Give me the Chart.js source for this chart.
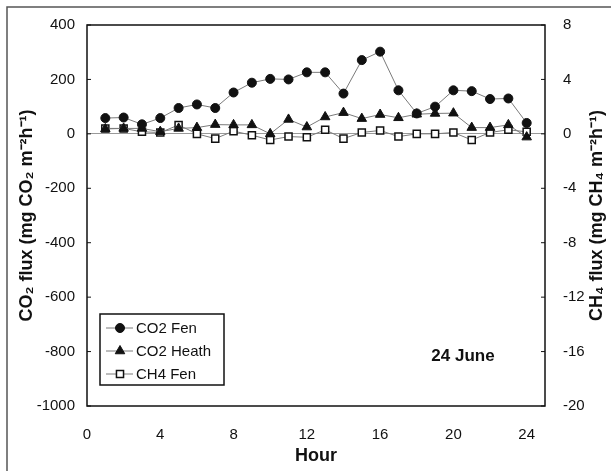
<!DOCTYPE html>
<html>
<head>
<meta charset="utf-8">
<script src="https://cdn.jsdelivr.net/npm/chart.js@4/dist/chart.umd.min.js"></script>
<style>
  html, body { margin: 0; padding: 0; background: #fff; }
  #wrap { width: 611px; height: 471px; }
</style>
</head>
<body>
<div id="wrap"><canvas id="chart" width="611" height="471"></canvas></div>
<script>
//--Datos----------------------------
var hours = [1, 2, 3, 4, 5, 6, 7, 8, 9, 10, 11, 12, 13, 14, 15, 16, 17, 18, 19, 20, 21, 22, 23, 24];
var co2Fen = [58, 60, 35, 58, 95, 108, 95, 152, 188, 202, 200, 226, 226, 148, 271, 302, 160, 75, 100, 160, 157, 128, 130, 40];
var co2Heath = [18, 20, 20, 8, 20, 23, 34, 33, 33, 0, 53, 25, 62, 78, 56, 71, 59, 72, 75, 76, 23, 23, 33, -12];
var ch4Fen = [0.4, 0.4, 0.15, 0.1, 0.65, 0, -0.35, 0.2, -0.1, -0.45, -0.2, -0.25, 0.3, -0.35, 0.1, 0.25, -0.2, 0, 0, 0.1, -0.45, 0.1, 0.3, 0.15];
var xTicks = [0, 4, 8, 12, 16, 20, 24];
var legendLabels = ['CO2 Fen', 'CO2 Heath', 'CH4 Fen'];
var dateLabel = '24 June';
var leftTitle = 'CO\u2082 flux (mg CO\u2082 m\u207B\u00B2h\u207B\u00B9)';
var rightTitle = 'CH\u2084 flux (mg CH\u2084 m\u207B\u00B2h\u207B\u00B9)';

var FONT = "'Liberation Sans', Arial, sans-serif";
var LINE = '#7a7a7a';

function pts(vals) {
  return hours.map(function (h, i) { return { x: h, y: vals[i] }; });
}

//--Marco, ticks internos, leyenda, titulo derecho y fecha----------------------------
var decor = {
  id: 'decor',
  afterDraw: function (chart) {
    var ctx = chart.ctx, a = chart.chartArea;
    var yl = chart.scales.y, yr = chart.scales.y2;
    ctx.save();
    // outer frame (left + top only, as in the scan)
    ctx.strokeStyle = '#555';
    ctx.lineWidth = 1.5;
    ctx.beginPath();
    ctx.moveTo(7, 471); ctx.lineTo(7, 7); ctx.lineTo(611, 7);
    ctx.stroke();
    // plot box
    ctx.strokeStyle = '#111';
    ctx.lineWidth = 1.5;
    ctx.strokeRect(a.left, a.top, a.right - a.left, a.bottom - a.top);
    // inward tick marks
    ctx.lineWidth = 1;
    ctx.beginPath();
    yl.ticks.forEach(function (t) {
      var p = yl.getPixelForValue(t.value);
      ctx.moveTo(a.left, p); ctx.lineTo(a.left + 4, p);
    });
    yr.ticks.forEach(function (t) {
      var p = yr.getPixelForValue(t.value);
      ctx.moveTo(a.right, p); ctx.lineTo(a.right - 4, p);
    });
    ctx.stroke();

    // right axis title, reading bottom to top
    ctx.save();
    ctx.translate(597, (a.top + a.bottom) / 2);
    ctx.rotate(-Math.PI / 2);
    ctx.font = 'bold 18px ' + FONT;
    ctx.fillStyle = '#111';
    ctx.textAlign = 'center';
    ctx.textBaseline = 'middle';
    ctx.fillText(rightTitle, 0, 0);
    ctx.restore();

    // legend
    var lx = 100, ly = 314, lw = 124, lh = 71;
    ctx.strokeStyle = '#111';
    ctx.lineWidth = 1.5;
    ctx.fillStyle = '#fff';
    ctx.fillRect(lx, ly, lw, lh);
    ctx.strokeRect(lx, ly, lw, lh);
    var ds = chart.data.datasets;
    ctx.font = '15px ' + FONT;
    ctx.textBaseline = 'middle';
    ctx.textAlign = 'left';
    legendLabels.forEach(function (lab, i) {
      var cy = 328 + i * 23;
      ctx.strokeStyle = LINE;
      ctx.lineWidth = 1;
      ctx.beginPath();
      ctx.moveTo(106, cy); ctx.lineTo(133, cy);
      ctx.stroke();
      var d = ds[i];
      ctx.fillStyle = d.pointBackgroundColor;
      ctx.strokeStyle = d.pointBorderColor;
      ctx.lineWidth = d.pointBorderWidth;
      Chart.helpers.drawPoint(ctx, {
        pointStyle: d.pointStyle, radius: d.pointRadius, rotation: 0, borderWidth: d.pointBorderWidth
      }, 120, cy);
      ctx.fillStyle = '#111';
      ctx.fillText(lab, 136, cy + 1);
    });

    // date label
    ctx.font = 'bold 17px ' + FONT;
    ctx.fillStyle = '#111';
    ctx.textAlign = 'center';
    ctx.fillText(dateLabel, 463, 356);
    ctx.restore();
  }
};

//--Grafico----------------------------
var ctx = document.getElementById('chart').getContext('2d');
var myChart = new Chart(ctx, {
  type: 'line',
  data: {
    datasets: [{
      label: legendLabels[0],
      data: pts(co2Fen),
      yAxisID: 'y',
      borderColor: LINE,
      borderWidth: 1,
      pointStyle: 'circle',
      pointRadius: 4.5,
      pointBackgroundColor: '#111',
      pointBorderColor: '#111',
      pointBorderWidth: 1
    }, {
      label: legendLabels[1],
      data: pts(co2Heath),
      yAxisID: 'y',
      borderColor: LINE,
      borderWidth: 1,
      pointStyle: 'triangle',
      pointRadius: 5.5,
      pointBackgroundColor: '#111',
      pointBorderColor: '#111',
      pointBorderWidth: 1
    }, {
      label: legendLabels[2],
      data: pts(ch4Fen),
      yAxisID: 'y2',
      borderColor: LINE,
      borderWidth: 1,
      pointStyle: 'rect',
      pointRadius: 5,
      pointBackgroundColor: '#fff',
      pointBorderColor: '#111',
      pointBorderWidth: 1.5
    }]
  },
  options: {
    responsive: false,
    animation: false,
    layout: { padding: { left: 8, right: 8, top: 25, bottom: 2 } },
    plugins: {
      legend: { display: false },
      tooltip: { enabled: false }
    },
    scales: {
      x: {
        type: 'linear',
        min: 0,
        max: 25,
        afterBuildTicks: function (axis) {
          axis.ticks = xTicks.map(function (v) { return { value: v }; });
        },
        afterFit: function (axis) { axis.height = 63; },
        grid: { display: false },
        border: { display: false },
        ticks: { color: '#111', padding: 12, maxRotation: 0, font: { family: FONT, size: 15 } },
        title: {
          display: true, text: 'Hour', color: '#111', padding: { top: 2, bottom: 2 },
          font: { family: FONT, size: 18, weight: 'bold' }
        }
      },
      y: {
        position: 'left',
        min: -1000,
        max: 400,
        afterFit: function (axis) { axis.width = 79; },
        grid: {
          drawTicks: false,
          color: function (c) { return c.tick && c.tick.value === 0 ? '#999' : 'rgba(0,0,0,0)'; },
          lineWidth: 1
        },
        border: { display: false },
        ticks: {
          stepSize: 200, color: '#111', padding: 12, font: { family: FONT, size: 15 },
          callback: function (v) { return String(v); }
        },
        title: {
          display: true, text: leftTitle, color: '#111',
          padding: { top: 8 },
          font: { family: FONT, size: 18, weight: 'bold' }
        }
      },
      y2: {
        position: 'right',
        min: -20,
        max: 8,
        afterFit: function (axis) { axis.width = 58; },
        grid: { display: false },
        border: { display: false },
        ticks: { stepSize: 4, color: '#111', padding: 10, font: { family: FONT, size: 15 } },
        title: { display: false }
      }
    }
  },
  plugins: [decor]
});
</script>
</body>
</html>
